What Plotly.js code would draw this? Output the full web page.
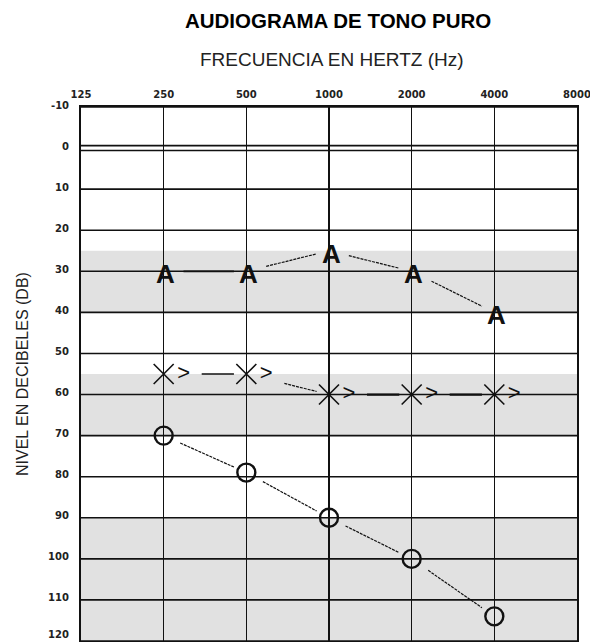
<!DOCTYPE html>
<html>
<head>
<meta charset="utf-8">
<script src="https://cdn.plot.ly/plotly-3.0.1.min.js"></script>
<style>html,body{margin:0;padding:0;background:#fff;}#chart{width:590px;height:642px;}</style>
</head>
<body>
<div id="chart"></div>
<script>
// ---- data ----
const freqs = [250, 500, 1000, 2000, 4000];
const seriesA = [30, 30, 25, 30, 40];      // "A" marks
const seriesX = [55, 55, 60, 60, 60];      // "X>" marks
const seriesO = [70, 79, 90, 100, 114];    // "O" marks
const freqTicks = [125, 250, 500, 1000, 2000, 4000, 8000];
const freqTickLabels = ['125', '250', '500', '1000', '2000', '4000', '8000'];
const dbTicks = [-10, 0, 10, 20, 30, 40, 50, 60, 70, 80, 90, 100, 110, 120];
const dbTickLabels = dbTicks.map(String);
const grayBands = [[25, 40], [55, 70], [90, 120]];

// ---- styles ----
const INK = '#111';
const dashA = ['solid', '3px,1px', '3px,1px', '3px,1px'];
const dashX = ['solid', '3px,1px', 'solid', 'solid'];
const widthX = [1.4, 1.2, 2.2, 2.2];
const dashO = ['3px,1px', '3px,1px', '3px,1px', '3px,1px'];

function segments(xs, ys, t0, t1) {
  const out = [];
  for (let i = 0; i < xs.length - 1; i++) {
    const l0 = Math.log10(xs[i]), l1 = Math.log10(xs[i + 1]);
    out.push({
      x: [Math.pow(10, l0 + t0 * (l1 - l0)), Math.pow(10, l0 + t1 * (l1 - l0))],
      y: [ys[i] + t0 * (ys[i + 1] - ys[i]), ys[i] + t1 * (ys[i + 1] - ys[i])]
    });
  }
  return out;
}

const traces = [];
segments(freqs, seriesA, 0.24, 0.85).forEach((s, i) => traces.push({
  x: s.x, y: s.y, mode: 'lines', hoverinfo: 'skip', showlegend: false,
  line: {color: INK, width: i === 0 ? 1.8 : 1.2, dash: dashA[i]}
}));
segments(freqs, seriesX, 0.46, 0.85).forEach((s, i) => traces.push({
  x: s.x, y: s.y, mode: 'lines', hoverinfo: 'skip', showlegend: false,
  line: {color: INK, width: widthX[i], dash: dashX[i]}
}));
segments(freqs, seriesO, 0.2, 0.85).forEach((s, i) => traces.push({
  x: s.x, y: s.y, mode: 'lines', hoverinfo: 'skip', showlegend: false,
  line: {color: INK, width: 1.2, dash: dashO[i]}
}));

traces.push({
  x: freqs, y: seriesX, mode: 'markers+text', text: freqs.map(() => '>'),
  textposition: 'middle right', showlegend: false, hoverinfo: 'x+y',
  marker: {symbol: 'x-thin', size: 20, color: INK, line: {color: INK, width: 1.6}},
  textfont: {family: 'Liberation Sans', size: 22, color: INK}
});
traces.push({
  x: freqs, y: seriesO, mode: 'markers', showlegend: false, hoverinfo: 'x+y',
  marker: {symbol: 'circle-open', size: 18, color: INK, line: {color: INK, width: 2.4}}
});

// "A" glyph marks placed on the data axes
const aMarks = freqs.map((f, i) => ({
  text: 'A', xref: 'x', yref: 'y', x: Math.log10(f), y: seriesA[i],
  xanchor: 'center', yanchor: 'middle', showarrow: false, yshift: -3, xshift: 2,
  font: {family: 'Liberation Sans', size: 26, color: INK, weight: 'bold'}
}));

const tickFont = {family: 'DejaVu Sans', size: 10, color: '#222', weight: 'bold'};

// dB tick labels on the y axis (last one kept inside the picture)
const dbLabels = dbTicks.map((v, i) => ({
  text: dbTickLabels[i], xref: 'paper', yref: 'y', x: 0, y: v,
  xanchor: 'right', showarrow: false, xshift: -10,
  yanchor: i === dbTicks.length - 1 ? 'bottom' : 'middle',
  yshift: i === dbTicks.length - 1 ? -1 : 2,
  font: tickFont
}));

const shapes = [];
grayBands.forEach(b => shapes.push({
  type: 'rect', xref: 'paper', yref: 'y', x0: 0, x1: 1, y0: b[0], y1: b[1],
  fillcolor: '#e1e1e1', line: {width: 0}, layer: 'below'
}));
dbTicks.forEach(v => {
  const ys = v === 0 ? [-0.6, 0.6] : [v];
  ys.forEach(yy => shapes.push({
    type: 'line', xref: 'paper', yref: 'y', x0: 0, x1: 1, y0: yy, y1: yy,
    line: {color: INK, width: 1.6}, layer: 'below'
  }));
});

const layout = {
  width: 590, height: 642,
  margin: {l: 81, r: 13, t: 107, b: 1},
  paper_bgcolor: '#fff', plot_bgcolor: '#fff',
  title: {
    text: '<b>AUDIOGRAMA DE TONO PURO</b>',
    font: {family: 'Liberation Sans', size: 20.5, color: '#000'},
    xref: 'container', x: 0.573, xanchor: 'center',
    yref: 'container', y: 0.968, yanchor: 'middle'
  },
  annotations: [{
    text: 'FRECUENCIA EN HERTZ (Hz)', xref: 'paper', yref: 'paper',
    x: 0.506, y: 1.089, xanchor: 'center', yanchor: 'middle', showarrow: false,
    font: {family: 'Liberation Sans', size: 19, color: '#222'}
  }, {
    text: 'NIVEL EN DECIBELES (DB)', xref: 'paper', yref: 'paper',
    x: 0, xshift: -59, y: 0.5, xanchor: 'center', yanchor: 'middle',
    textangle: -90, showarrow: false,
    font: {family: 'Liberation Sans', size: 16, color: '#222'}
  }].concat(aMarks, dbLabels),
  xaxis: {
    type: 'log', range: [Math.log10(125), Math.log10(8000)], side: 'top',
    tickvals: freqTicks, ticktext: freqTickLabels, ticks: '',
    showgrid: true, gridcolor: INK, gridwidth: 1.5, zeroline: false,
    showline: true, mirror: true, linecolor: INK, linewidth: 2,
    tickfont: tickFont, ticklabelstandoff: 3, ticklabeloverflow: 'allow',
    fixedrange: true
  },
  yaxis: {
    range: [120, -10], tickvals: dbTicks, showticklabels: false, ticks: '',
    showgrid: false, zeroline: false,
    showline: true, mirror: true, linecolor: INK, linewidth: 2,
    fixedrange: true
  },
  shapes: shapes,
  showlegend: false
};

Plotly.newPlot('chart', traces, layout, {displayModeBar: false, staticPlot: true});
</script>
</body>
</html>
